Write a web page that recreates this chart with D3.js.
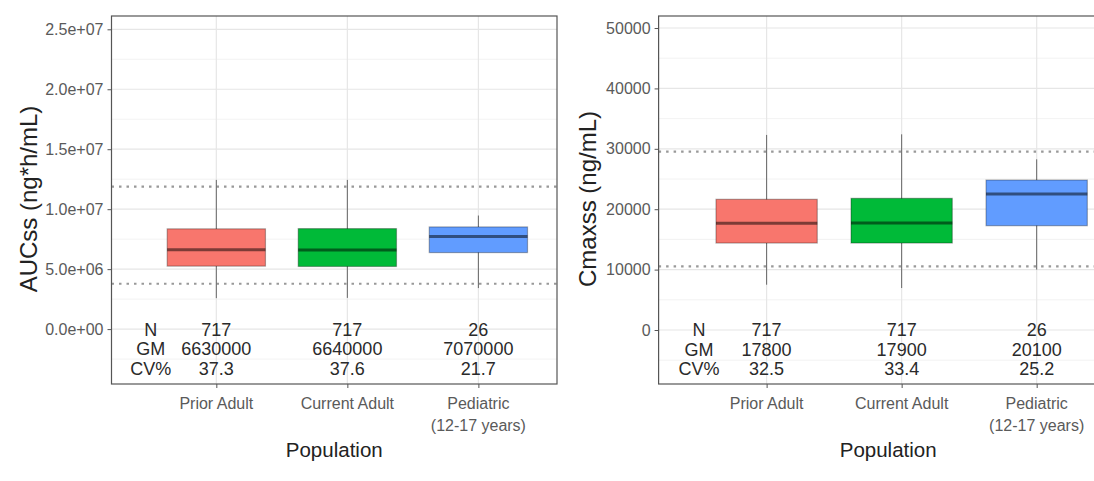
<!DOCTYPE html>
<html>
<head>
<meta charset="utf-8">
<script src="https://cdn.jsdelivr.net/npm/d3@7"></script>
<style>
  body { margin: 0; background: #fff; }
  svg { display: block; font-family: "Liberation Sans", Arial, sans-serif; }
</style>
</head>
<body>
<svg id="chart" width="1094" height="481"></svg>
<script>
// categories
const populations = ["Prior Adult", "Current Adult", "Pediatric\n(12-17 years)"];
const boxColors = ["#F8766D", "#00BA38", "#619CFF"];

// AUCss boxplot stats (ng*h/mL)
const aucLow    = [2580000, 2600000, 3420000];
const aucQ1     = [5250000, 5220000, 6380000];
const aucMedian = [6610000, 6600000, 7720000];
const aucQ3     = [8360000, 8380000, 8520000];
const aucHigh   = [12440000, 12440000, 9470000];
const aucRef    = [3780000, 11880000];
const aucN  = [717, 717, 26];
const aucGM = ["6630000", "6640000", "7070000"];
const aucCV = ["37.3", "37.6", "21.7"];
const aucTicks = [0, 5e6, 1e7, 1.5e7, 2e7, 2.5e7];
const aucTickLabels = ["0.0e+00", "5.0e+06", "1.0e+07", "1.5e+07", "2.0e+07", "2.5e+07"];

// Cmaxss boxplot stats (ng/mL)
const cmaxLow    = [7500, 6950, 10000];
const cmaxQ1     = [14400, 14400, 17270];
const cmaxMedian = [17670, 17700, 22520];
const cmaxQ3     = [21640, 21800, 24830];
const cmaxHigh   = [32300, 32400, 28260];
const cmaxRef    = [10550, 29550];
const cmaxN  = [717, 717, 26];
const cmaxGM = ["17800", "17900", "20100"];
const cmaxCV = ["32.5", "33.4", "25.2"];
const cmaxTicks = [0, 10000, 20000, 30000, 40000, 50000];
const cmaxTickLabels = ["0", "10000", "20000", "30000", "40000", "50000"];

const statLabels = ["N", "GM", "CV%"];

const svg = d3.select("#chart");

function drawPanel(p) {
  const x = d3.scaleLinear().domain([0.2, 3.6]).range([p.left, p.right]);
  const y = d3.scaleLinear().domain(p.yDomain).range([384, 16]);
  const g = svg.append("g");
  const step = p.ticks[1] - p.ticks[0];

  // grid: minor, then major
  const minor = d3.range(p.yDomain[0] - (p.yDomain[0] % step) - step / 2, p.yDomain[1], step)
    .filter(v => v > p.yDomain[0] && v < p.yDomain[1]);
  g.selectAll(".minor").data(minor).enter().append("line")
    .attr("x1", p.left).attr("x2", p.right)
    .attr("y1", d => y(d)).attr("y2", d => y(d))
    .attr("stroke", "#efefef").attr("stroke-width", 0.8);
  g.selectAll(".majy").data(p.ticks).enter().append("line")
    .attr("x1", p.left).attr("x2", p.right)
    .attr("y1", d => y(d)).attr("y2", d => y(d))
    .attr("stroke", "#e6e6e6").attr("stroke-width", 1.2);
  g.selectAll(".majx").data(populations).enter().append("line")
    .attr("x1", (d, i) => x(i + 1)).attr("x2", (d, i) => x(i + 1))
    .attr("y1", 16).attr("y2", 384)
    .attr("stroke", "#e6e6e6").attr("stroke-width", 1.2);

  // reference lines
  g.selectAll(".ref").data(p.ref).enter().append("line")
    .attr("x1", p.left).attr("x2", p.right)
    .attr("y1", d => y(d)).attr("y2", d => y(d))
    .attr("stroke", "#999").attr("stroke-width", 2.2)
    .attr("stroke-dasharray", "2.5,5");

  const half = 0.375;
  const boxes = g.selectAll(".box").data(populations).enter().append("g");
  // whiskers
  boxes.append("line")
    .attr("x1", (d, i) => x(i + 1)).attr("x2", (d, i) => x(i + 1))
    .attr("y1", (d, i) => y(p.low[i])).attr("y2", (d, i) => y(p.high[i]))
    .attr("stroke", "#666").attr("stroke-width", 1);
  boxes.append("rect")
    .attr("x", (d, i) => x(i + 1 - half))
    .attr("width", (d, i) => x(i + 1 + half) - x(i + 1 - half))
    .attr("y", (d, i) => y(p.q3[i]))
    .attr("height", (d, i) => y(p.q1[i]) - y(p.q3[i]))
    .attr("fill", (d, i) => boxColors[i])
    .attr("stroke", "rgba(0,0,0,0.3)").attr("stroke-width", 1.2);
  boxes.append("line")
    .attr("x1", (d, i) => x(i + 1 - half)).attr("x2", (d, i) => x(i + 1 + half))
    .attr("y1", (d, i) => y(p.median[i])).attr("y2", (d, i) => y(p.median[i]))
    .attr("stroke", "rgba(0,0,0,0.5)").attr("stroke-width", 3);

  // N / GM / CV% annotations
  const rows = [p.n, p.gm, p.cv];
  const ann = g.append("g").attr("font-size", 18).attr("fill", "#2a2a2a")
    .attr("text-anchor", "middle");
  statLabels.forEach((lab, r) => {
    ann.append("text").attr("x", x(0.5)).attr("y", y(0) + r * 19.5)
      .attr("dy", "0.36em").text(lab);
    rows[r].forEach((v, i) => {
      ann.append("text").attr("x", x(i + 1)).attr("y", y(0) + r * 19.5)
        .attr("dy", "0.36em").text(v);
    });
  });

  // y axis
  const yAxis = d3.axisLeft(y).tickValues(p.ticks)
    .tickFormat((d, i) => p.tickLabels[i]).tickSize(4).tickPadding(4);
  const ya = g.append("g").attr("transform", `translate(${p.left},0)`).call(yAxis);
  ya.select(".domain").remove();
  ya.selectAll("line").attr("stroke", "#555");
  ya.selectAll("text").attr("font-size", 16).attr("fill", "#5a5a5a")
    .attr("font-family", "Liberation Sans, Arial, sans-serif");

  // x axis
  const xAxis = d3.axisBottom(x).tickValues([1, 2, 3]).tickFormat("").tickSize(4);
  const xa = g.append("g").attr("transform", "translate(0,384)").call(xAxis);
  xa.select(".domain").remove();
  xa.selectAll("line").attr("stroke", "#555");
  const cat = g.append("g").attr("font-size", 16).attr("fill", "#5a5a5a")
    .attr("text-anchor", "middle");
  populations.forEach((lab, i) => {
    const t = cat.append("text").attr("x", x(i + 1)).attr("y", 409);
    lab.split("\n").forEach((line, k) => {
      t.append("tspan").attr("x", x(i + 1)).attr("dy", k ? 22 : 0).text(line);
    });
  });

  // panel border
  g.append("rect").attr("x", p.left).attr("y", 16)
    .attr("width", p.right - p.left).attr("height", 368)
    .attr("fill", "none").attr("stroke", "#555").attr("stroke-width", 1.2);

  // titles
  g.append("text").attr("x", (p.left + p.right) / 2).attr("y", 457)
    .attr("text-anchor", "middle").attr("font-size", 20.5).attr("fill", "#222")
    .text("Population");
  g.append("text")
    .attr("transform", `translate(${p.titleX},199) rotate(-90)`)
    .attr("text-anchor", "middle").attr("dy", "0.36em")
    .attr("font-size", 24).attr("fill", "#222").text(p.yTitle);
}

drawPanel({
  left: 111.5, right: 557, yDomain: [-4.58e6, 2.611e7],
  ticks: aucTicks, tickLabels: aucTickLabels, ref: aucRef,
  low: aucLow, q1: aucQ1, median: aucMedian, q3: aucQ3, high: aucHigh,
  n: aucN, gm: aucGM, cv: aucCV, titleX: 28, yTitle: "AUCss (ng*h/mL)"
});
drawPanel({
  left: 658.6, right: 1117.7, yDomain: [-8940, 51990],
  ticks: cmaxTicks, tickLabels: cmaxTickLabels, ref: cmaxRef,
  low: cmaxLow, q1: cmaxQ1, median: cmaxMedian, q3: cmaxQ3, high: cmaxHigh,
  n: cmaxN, gm: cmaxGM, cv: cmaxCV, titleX: 587, yTitle: "Cmaxss (ng/mL)"
});
</script>
</body>
</html>
